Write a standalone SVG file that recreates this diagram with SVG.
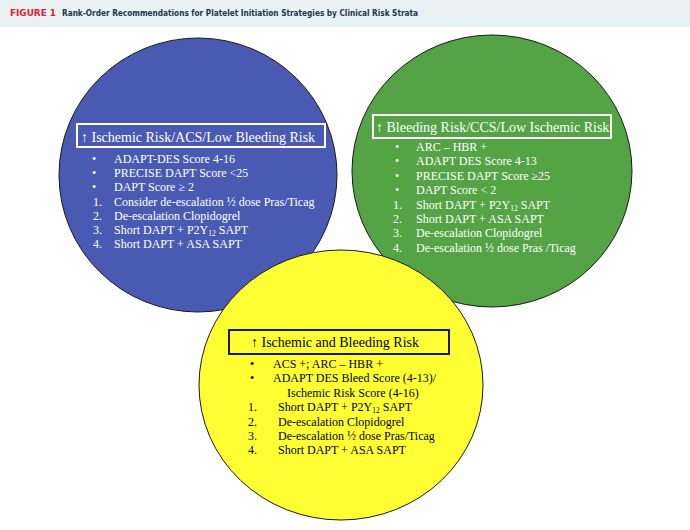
<svg xmlns="http://www.w3.org/2000/svg" width="690" height="530" viewBox="0 0 690 530">
<style>
.hd{font-family:"Liberation Serif","Times New Roman",serif;font-size:14px}
.li{font-family:"Liberation Serif","Times New Roman",serif;font-size:12px}
.w{fill:#ffffff}
.k{fill:#000000}
.ell{stroke:#1a1a1a;stroke-width:1}
.sub{font-size:7.5px}
</style>
<rect x="0" y="0" width="690" height="27" fill="#e9f1f3"/>
<text x="10" y="16" font-family="'DejaVu Sans Condensed','DejaVu Sans',sans-serif" font-stretch="condensed" font-weight="bold" font-size="9.5" fill="#e0202f" textLength="46" lengthAdjust="spacingAndGlyphs">FIGURE 1</text>
<text x="62" y="16" font-family="'DejaVu Sans Condensed','DejaVu Sans',sans-serif" font-stretch="condensed" font-weight="bold" font-size="9.5" fill="#1c3550" textLength="356" lengthAdjust="spacingAndGlyphs">Rank-Order Recommendations for Platelet Initiation Strategies by Clinical Risk Strata</text>

<g id="blue">
<ellipse class="ell" cx="198" cy="175" rx="139" ry="137" fill="#4a5ab2"/>
<rect x="77" y="124" width="248" height="23" fill="none" stroke="#ffffff" stroke-width="2"/>
<text class="hd w" x="81" y="142">↑ Ischemic Risk/ACS/Low Bleeding Risk</text>
<g class="li w">
<text x="92" y="163">•</text><text x="114" y="163">ADAPT-DES Score 4-16</text>
<text x="92" y="177.2">•</text><text x="114" y="177.2">PRECISE DAPT Score &lt;25</text>
<text x="92" y="191.4">•</text><text x="114" y="191.4">DAPT Score ≥ 2</text>
<text x="93" y="205.6">1.</text><text x="114" y="205.6">Consider de-escalation ½ dose Pras/Ticag</text>
<text x="93" y="219.8">2.</text><text x="114" y="219.8">De-escalation Clopidogrel</text>
<text x="93" y="234">3.</text><text x="114" y="234">Short DAPT + P2Y<tspan class="sub" dy="2">12</tspan><tspan dy="-2"> SAPT</tspan></text>
<text x="93" y="248.2">4.</text><text x="114" y="248.2">Short DAPT + ASA SAPT</text>
</g>
</g>

<g id="green">
<ellipse class="ell" cx="492" cy="171" rx="140" ry="136" fill="#54a446"/>
<rect x="373" y="115" width="238" height="23" fill="none" stroke="#ffffff" stroke-width="2"/>
<text class="hd w" x="376" y="132">↑ Bleeding Risk/CCS/Low Ischemic Risk</text>
<g class="li w">
<text x="395" y="151">•</text><text x="416" y="151">ARC – HBR +</text>
<text x="395" y="165.4">•</text><text x="416" y="165.4">ADAPT DES Score 4-13</text>
<text x="395" y="179.8">•</text><text x="416" y="179.8">PRECISE DAPT Score ≥25</text>
<text x="395" y="194.2">•</text><text x="416" y="194.2">DAPT Score &lt; 2</text>
<text x="393" y="208.6">1.</text><text x="416" y="208.6">Short DAPT + P2Y<tspan class="sub" dy="2">12</tspan><tspan dy="-2"> SAPT</tspan></text>
<text x="393" y="223">2.</text><text x="416" y="223">Short DAPT + ASA SAPT</text>
<text x="393" y="237.4">3.</text><text x="416" y="237.4">De-escalation Clopidogrel</text>
<text x="393" y="251.8">4.</text><text x="416" y="251.8">De-escalation ½ dose Pras /Ticag</text>
</g>
</g>

<g id="yellow">
<ellipse class="ell" cx="341" cy="385" rx="142" ry="135" fill="#ffff33"/>
<rect x="229" y="330" width="220" height="24" fill="none" stroke="#1a1a1a" stroke-width="2"/>
<text class="hd k" x="251" y="347">↑ Ischemic and Bleeding Risk</text>
<g class="li k">
<text x="250" y="368">•</text><text x="273" y="368">ACS +; ARC – HBR +</text>
<text x="250" y="382.4">•</text><text x="273" y="382.4">ADAPT DES Bleed Score (4-13)/</text>
<text x="287" y="396.8">Ischemic Risk Score (4-16)</text>
<text x="248" y="411.2">1.</text><text x="278" y="411.2">Short DAPT + P2Y<tspan class="sub" dy="2">12</tspan><tspan dy="-2"> SAPT</tspan></text>
<text x="248" y="425.6">2.</text><text x="278" y="425.6">De-escalation Clopidogrel</text>
<text x="248" y="440">3.</text><text x="278" y="440">De-escalation ½ dose Pras/Ticag</text>
<text x="248" y="454.4">4.</text><text x="278" y="454.4">Short DAPT + ASA SAPT</text>
</g>
</g>

<g id="connectors"></g>
</svg>
